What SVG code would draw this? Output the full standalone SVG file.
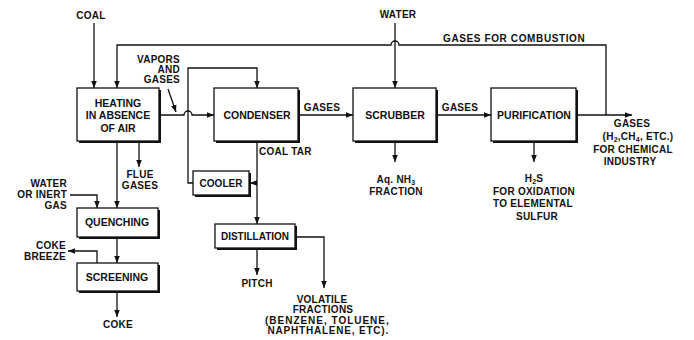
<svg xmlns="http://www.w3.org/2000/svg" width="694" height="340" viewBox="0 0 694 340">
<defs>
<style>
.t{font-family:"Liberation Sans",Arial,sans-serif;font-weight:bold;font-size:10px;fill:#111}
#labels .t{letter-spacing:0.25px}
.b{font-size:10.5px}
.m{text-anchor:middle}
.e{text-anchor:end}
.sub{font-size:7px}
.ln{fill:none;stroke:#111;stroke-width:1.3}
.box{fill:#fff;stroke:#111;stroke-width:1.3}
.sh{fill:#111}
</style>
<marker id="ar" markerUnits="userSpaceOnUse" markerWidth="8" markerHeight="8" refX="7" refY="4" orient="auto">
<path d="M0,1.2 L7,4 L0,6.8 Z" fill="#111"/>
</marker>
</defs>
<rect width="694" height="340" fill="#fff"/>

<g id="connectors" class="ln">
<path class="ln" d="M94,23 V88" marker-end="url(#ar)"/>
<path class="ln" d="M606,115 V45 H399 A4,4 0 0 0 391,45 H117 V88" marker-end="url(#ar)"/>
<path class="ln" d="M395,23 V88" marker-end="url(#ar)"/>
<path class="ln" d="M159,115 H184 A4,4 0 0 1 192,115 H214" marker-end="url(#ar)"/>
<path class="ln" d="M193,183 H188 V68 H257 V88" marker-end="url(#ar)"/>
<path class="ln" d="M168,89 L176,112" marker-end="url(#ar)"/>
<path class="ln" d="M298,115 H353" marker-end="url(#ar)"/>
<path class="ln" d="M436,115 H491" marker-end="url(#ar)"/>
<path class="ln" d="M576,115 H632" marker-end="url(#ar)"/>
<path class="ln" d="M257,141 V224" marker-end="url(#ar)"/>
<path class="ln" d="M257,183 H250" marker-end="url(#ar)"/>
<path class="ln" d="M257,248 V275" marker-end="url(#ar)"/>
<path class="ln" d="M295,237 H324 V288" marker-end="url(#ar)"/>
<path class="ln" d="M395,141 V162" marker-end="url(#ar)"/>
<path class="ln" d="M534,141 V162" marker-end="url(#ar)"/>
<path class="ln" d="M117,141 V208" marker-end="url(#ar)"/>
<path class="ln" d="M139,141 V167" marker-end="url(#ar)"/>
<path class="ln" d="M70,195 H97 V208" marker-end="url(#ar)"/>
<path class="ln" d="M117,237 V263" marker-end="url(#ar)"/>
<path class="ln" d="M97,263 V251 H68" marker-end="url(#ar)"/>
<path class="ln" d="M117,291 V317" marker-end="url(#ar)"/>
</g>

<g id="heating">
<rect class="sh" x="79" y="90" width="82" height="53"/>
<rect class="box" x="77" y="88" width="82" height="53"/>
<text class="t b m" x="118" y="107">HEATING</text>
<text class="t b m" x="118" y="119">IN ABSENCE</text>
<text class="t b m" x="118" y="132">OF AIR</text>
</g>
<g id="condenser">
<rect class="sh" x="216" y="90" width="84" height="53"/>
<rect class="box" x="214" y="88" width="84" height="53"/>
<text class="t b m" x="257" y="119">CONDENSER</text>
</g>
<g id="scrubber">
<rect class="sh" x="355" y="90" width="83" height="53"/>
<rect class="box" x="353" y="88" width="83" height="53"/>
<text class="t b m" x="395" y="119">SCRUBBER</text>
</g>
<g id="purification">
<rect class="sh" x="493" y="90" width="85" height="53"/>
<rect class="box" x="491" y="88" width="85" height="53"/>
<text class="t b m" x="534" y="119">PURIFICATION</text>
</g>
<g id="cooler">
<rect class="sh" x="195" y="173" width="56" height="24"/>
<rect class="box" x="193" y="171" width="56" height="24"/>
<text class="t m" x="221" y="187">COOLER</text>
</g>
<g id="distillation">
<rect class="sh" x="217" y="226" width="80" height="24"/>
<rect class="box" x="215" y="224" width="80" height="24"/>
<text class="t m" x="255" y="240">DISTILLATION</text>
</g>
<g id="quenching">
<rect class="sh" x="79" y="210" width="81" height="29"/>
<rect class="box" x="77" y="208" width="81" height="29"/>
<text class="t b m" x="117" y="226">QUENCHING</text>
</g>
<g id="screening">
<rect class="sh" x="79" y="265" width="81" height="28"/>
<rect class="box" x="77" y="263" width="81" height="28"/>
<text class="t b m" x="117" y="281">SCREENING</text>
</g>

<g id="labels">
<text class="t m" x="91" y="19">COAL</text>
<text class="t m" x="398" y="18">WATER</text>
<text class="t e" x="180" y="63">VAPORS</text>
<text class="t e" x="180" y="73">AND</text>
<text class="t e" x="180" y="83">GASES</text>
<text class="t m" x="514" y="42" textLength="142" lengthAdjust="spacing">GASES FOR COMBUSTION</text>
<text class="t m" x="322" y="111">GASES</text>
<text class="t m" x="460" y="111">GASES</text>
<text class="t m" x="632" y="127">GASES</text>
<text class="t m" x="638" y="140">(H<tspan class="sub" dy="2">2</tspan><tspan dy="-2">,CH</tspan><tspan class="sub" dy="2">4</tspan><tspan dy="-2">, ETC.)</tspan></text>
<text class="t m" x="633" y="153">FOR CHEMICAL</text>
<text class="t m" x="630" y="165">INDUSTRY</text>
<text class="t" x="259" y="155">COAL TAR</text>
<text class="t m" x="396" y="183">Aq. NH<tspan class="sub" dy="2">3</tspan></text>
<text class="t m" x="396" y="195">FRACTION</text>
<text class="t m" x="534" y="182">H<tspan class="sub" dy="2">2</tspan><tspan dy="-2">S</tspan></text>
<text class="t m" x="534" y="195">FOR OXIDATION</text>
<text class="t m" x="533" y="207">TO ELEMENTAL</text>
<text class="t m" x="537" y="220">SULFUR</text>
<text class="t m" x="140" y="178">FLUE</text>
<text class="t m" x="140" y="189">GASES</text>
<text class="t e" x="67" y="187">WATER</text>
<text class="t e" x="67" y="198">OR INERT</text>
<text class="t e" x="67" y="209">GAS</text>
<text class="t e" x="66" y="249">COKE</text>
<text class="t e" x="66" y="260">BREEZE</text>
<text class="t m" x="118" y="328">COKE</text>
<text class="t m" x="257" y="287">PITCH</text>
<text class="t m" x="322" y="303">VOLATILE</text>
<text class="t m" x="323" y="313">FRACTIONS</text>
<text class="t m" x="327" y="324" textLength="124" lengthAdjust="spacing">(BENZENE, TOLUENE,</text>
<text class="t m" x="328" y="334" textLength="121" lengthAdjust="spacing">NAPHTHALENE, ETC).</text>
</g>
</svg>
